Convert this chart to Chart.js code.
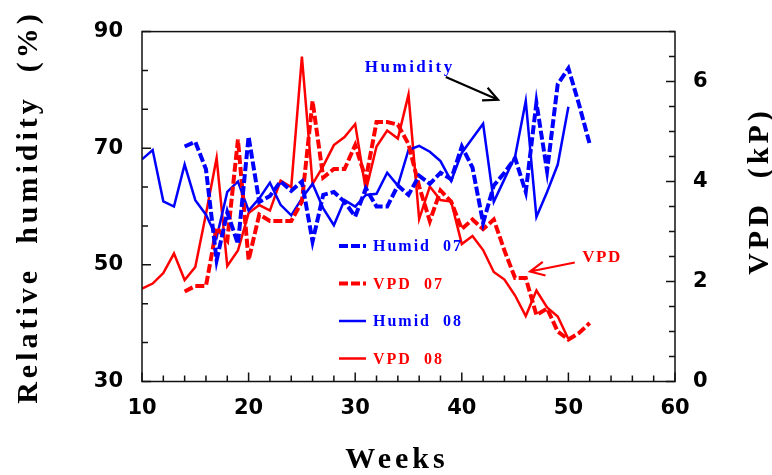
<!DOCTYPE html>
<html>
<head>
<meta charset="UTF-8">
<title>Relative humidity and VPD</title>
<script src="https://cdn.jsdelivr.net/npm/chart.js"></script>
<style>
  body { margin: 0; background: #fff; }
  #wrap { width: 772px; height: 475px; position: relative; }
</style>
</head>
<body>
<div id="wrap"><canvas id="rhChart"></canvas></div>
<script>
  // weeks of each year
  const weeks07 = [14, 15, 16, 17, 18, 19, 20, 21, 22, 23, 24, 25, 26, 27, 28, 29, 30, 31, 32, 33,
                   34, 35, 36, 37, 38, 39, 40, 41, 42, 43, 44, 45, 46, 47, 48, 49, 50, 51, 52];
  const weeks08 = [10, 11, 12, 13, 14, 15, 16, 17, 18, 19, 20, 21, 22, 23, 24, 25, 26, 27, 28, 29,
                   30, 31, 32, 33, 34, 35, 36, 37, 38, 39, 40, 41, 42, 43, 44, 45, 46, 47, 48, 49, 50];

  // relative humidity (%) - left axis
  const humid07 = [70.3, 71.1, 66.4, 50.8, 59, 53.6, 72, 60.8, 61.8, 64.3, 62.7, 64.3, 54, 62, 62.5, 60.8, 58.3, 63.1, 60, 60,
                   63.6, 62, 65.3, 63.9, 65.8, 64.7, 70.3, 66.7, 57.2, 63.6, 65.8, 68.3, 62.5, 77.8, 66.1, 81, 83.7, 77.5, 70.7];
  const humid08 = [68.1, 69.7, 60.9, 60, 67.2, 61.1, 58.6, 54.7, 62.5, 64.3, 59.3, 61.4, 64.1, 60.3, 58.5, 61.4, 63.9, 59.7, 56.8, 61.1,
                   60, 62, 62.2, 65.8, 63.6, 69.7, 70.4, 69.4, 67.8, 64.4, 69.2, 71.7, 74.2, 60.8, 64.7, 68.6, 78.1, 58.2, 62.5, 67.2, 77.1];

  // VPD (kP) - right axis
  const vpd07 = [1.80, 1.91, 1.91, 3.08, 2.82, 4.84, 2.43, 3.34, 3.21, 3.21, 3.21, 3.6, 5.61, 4.08, 4.25, 4.25, 4.73, 4.05, 5.19, 5.19,
                 5.14, 4.75, 3.9, 3.21, 3.82, 3.6, 3.05, 3.24, 3.05, 3.24, 2.62, 2.07, 2.07, 1.33, 1.46, 1.0, 0.84, 0.97, 1.17];
  const vpd08 = [1.86, 1.96, 2.17, 2.56, 2.03, 2.29, 3.35, 4.47, 2.31, 2.62, 3.37, 3.53, 3.42, 4.02, 3.89, 6.5, 3.95, 4.31, 4.73, 4.89,
                 5.15, 3.82, 4.7, 5.02, 4.86, 5.74, 3.25, 3.9, 3.63, 3.6, 2.75, 2.91, 2.63, 2.19, 2.04, 1.72, 1.31, 1.82, 1.48, 1.3, 0.85];

  const xTicks = [10, 20, 30, 40, 50, 60];
  const rhTicks = [30, 50, 70, 90];
  const vpdTicks = [0, 2, 4, 6];

  const BLUE = '#0000ff';
  const RED = '#ff0000';
  const SERIF = '"Liberation Serif", "Times New Roman", serif';
  const SANS = '"DejaVu Sans", sans-serif';

  function pts(xs, ys) {
    return xs.map((x, i) => ({ x: x, y: ys[i] }));
  }

  // frame, inward ticks, titles, legend and the two arrows
  const extras = {
    id: 'extras',
    afterDraw(chart) {
      const ctx = chart.ctx;
      const a = chart.chartArea;
      const sx = chart.scales.x, sy = chart.scales.y, sv = chart.scales.y2;
      ctx.save();

      ctx.strokeStyle = '#111';
      ctx.lineWidth = 1.5;
      ctx.strokeRect(a.left, a.top, a.right - a.left, a.bottom - a.top);

      ctx.beginPath();
      for (let v = 10; v <= 60; v += 2) {
        const p = sx.getPixelForValue(v);
        ctx.moveTo(p, a.bottom);
        ctx.lineTo(p, a.bottom - (v % 10 === 0 ? 9 : 6));
      }
      for (let i = 0; i <= 9; i++) {
        const p = sy.getPixelForValue(30 + i * 20 / 3);
        ctx.moveTo(a.left, p);
        ctx.lineTo(a.left + (i % 3 === 0 ? 9 : 6), p);
      }
      for (let i = 0; i <= 14; i++) {
        const p = sv.getPixelForValue(i * 0.5);
        ctx.moveTo(a.right, p);
        ctx.lineTo(a.right - (i % 4 === 0 ? 9 : 6), p);
      }
      ctx.stroke();

      // axis titles
      ctx.fillStyle = '#000';
      ctx.font = 'bold 30px ' + SERIF;
      ctx.letterSpacing = '4px';
      ctx.textAlign = 'center';
      ctx.textBaseline = 'middle';
      ctx.save();
      ctx.translate(29, 207);
      ctx.rotate(-Math.PI / 2);
      ctx.fillText('Relative  humidity  (%)', 0, 0);
      ctx.restore();
      ctx.save();
      ctx.translate(760, 191);
      ctx.rotate(-Math.PI / 2);
      ctx.fillText('VPD  (kP)', 0, 0);
      ctx.restore();
      ctx.textBaseline = 'alphabetic';
      ctx.fillText('Weeks', 397, 468);

      // legend
      ctx.font = 'bold 16px ' + SERIF;
      ctx.letterSpacing = '2px';
      ctx.textAlign = 'left';
      ctx.textBaseline = 'middle';
      chart.data.datasets.forEach((ds, i) => {
        const y = 246 + i * 37.5;
        ctx.strokeStyle = ds.borderColor;
        ctx.lineWidth = ds.borderWidth;
        ctx.setLineDash(ds.borderDash || []);
        ctx.beginPath();
        ctx.moveTo(339, y);
        ctx.lineTo(366, y);
        ctx.stroke();
        ctx.setLineDash([]);
        ctx.fillStyle = ds.borderColor;
        ctx.fillText(ds.label, 373, y + 1);
      });

      // annotations
      ctx.font = 'bold 17px ' + SERIF;
      ctx.letterSpacing = '2.5px';
      ctx.textBaseline = 'alphabetic';
      ctx.fillStyle = BLUE;
      ctx.fillText('Humidity', sx.getPixelForValue(30.9), sy.getPixelForValue(83.1));
      ctx.fillStyle = RED;
      ctx.letterSpacing = '1.5px';
      ctx.fillText('VPD', sx.getPixelForValue(51.3), sv.getPixelForValue(2.4));

      function arrow(x1, y1, x2, y2, color) {
        const ang = Math.atan2(y2 - y1, x2 - x1);
        const h = 16, w = 0.45;
        ctx.strokeStyle = color;
        ctx.lineWidth = 2.2;
        ctx.beginPath();
        ctx.moveTo(x1, y1);
        ctx.lineTo(x2, y2);
        ctx.moveTo(x2 - h * Math.cos(ang - w), y2 - h * Math.sin(ang - w));
        ctx.lineTo(x2, y2);
        ctx.lineTo(x2 - h * Math.cos(ang + w), y2 - h * Math.sin(ang + w));
        ctx.stroke();
      }
      arrow(sx.getPixelForValue(38.5), sy.getPixelForValue(82.2),
            sx.getPixelForValue(43.4), sy.getPixelForValue(78.3), '#000');
      arrow(sx.getPixelForValue(50.6), sv.getPixelForValue(2.38),
            sx.getPixelForValue(46.4), sv.getPixelForValue(2.2), RED);

      ctx.restore();
    }
  };

  const tickFont = { family: SANS, size: 21, weight: 'bold' };

  new Chart(document.getElementById('rhChart'), {
    type: 'line',
    data: {
      datasets: [
        { label: 'Humid  07', data: pts(weeks07, humid07), yAxisID: 'y', borderColor: BLUE, borderWidth: 4, borderDash: [9, 3] },
        { label: 'VPD  07', data: pts(weeks07, vpd07), yAxisID: 'y2', borderColor: RED, borderWidth: 4, borderDash: [9, 3] },
        { label: 'Humid  08', data: pts(weeks08, humid08), yAxisID: 'y', borderColor: BLUE, borderWidth: 2.5 },
        { label: 'VPD  08', data: pts(weeks08, vpd08), yAxisID: 'y2', borderColor: RED, borderWidth: 2.5 }
      ]
    },
    options: {
      responsive: true,
      maintainAspectRatio: false,
      animation: false,
      layout: { padding: { top: 22, left: 0, right: 0, bottom: 0 } },
      elements: { point: { radius: 0 }, line: { tension: 0, borderCapStyle: 'butt' } },
      plugins: { legend: { display: false }, tooltip: { enabled: false } },
      scales: {
        x: {
          type: 'linear', min: 10, max: 60,
          grid: { display: false, drawTicks: false },
          border: { display: false },
          afterBuildTicks: s => { s.ticks = xTicks.map(v => ({ value: v })); },
          ticks: { color: '#000', font: tickFont, padding: 14, maxRotation: 0 },
          afterFit: s => { s.height = 93.5; }
        },
        y: {
          position: 'left', min: 30, max: 90,
          grid: { display: false, drawTicks: false },
          border: { display: false },
          afterBuildTicks: s => { s.ticks = rhTicks.map(v => ({ value: v })); },
          ticks: { color: '#000', font: tickFont, padding: 19 },
          afterFit: s => { s.width = 142; }
        },
        y2: {
          position: 'right', min: 0, max: 7,
          grid: { display: false, drawTicks: false },
          border: { display: false },
          afterBuildTicks: s => { s.ticks = vpdTicks.map(v => ({ value: v })); },
          ticks: { color: '#000', font: tickFont, padding: 18 },
          afterFit: s => { s.width = 97; }
        }
      }
    },
    plugins: [extras]
  });
</script>
</body>
</html>
